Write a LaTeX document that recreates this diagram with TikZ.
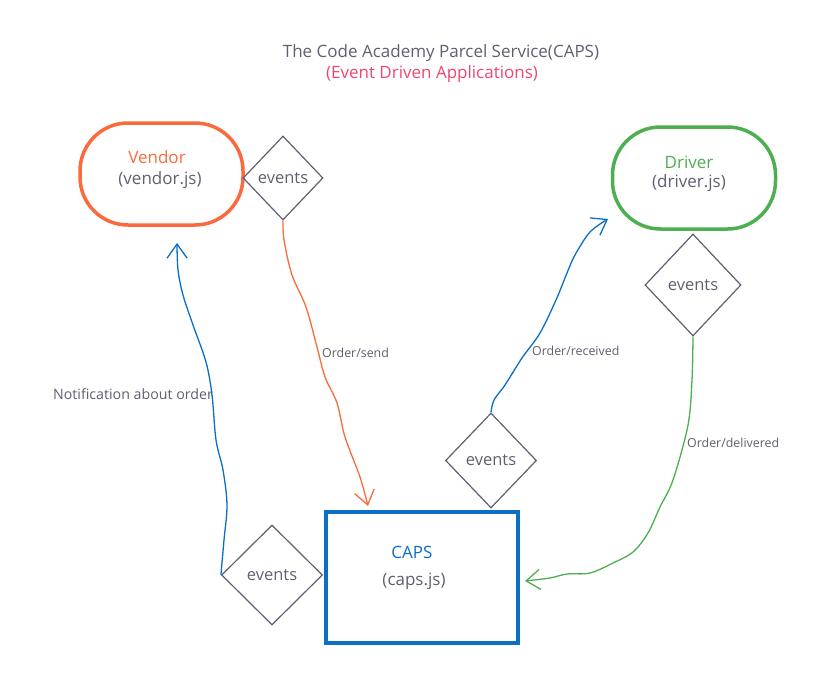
\documentclass[tikz,border=0pt]{standalone}
\usepackage{fontspec}
\setmainfont{Open Sans}
\usetikzlibrary{shapes.geometric,arrows.meta}
\definecolor{cgray}{HTML}{5E6072}
\definecolor{corange}{HTML}{FA6A3C}
\definecolor{cgreen}{HTML}{4CAF50}
\definecolor{cblue}{HTML}{0B6FC6}
\definecolor{cpink}{HTML}{EF4670}
\tikzset{
  stadium/.style={draw, rectangle, rounded corners=48pt, line width=3.5pt, minimum width=163pt, minimum height=102pt, inner sep=0pt},
  evd/.style={draw=cgray, diamond, line width=1.2pt, inner sep=0pt, text=cgray, font=\fontsize{16.5}{18}\selectfont},
  lbl/.style={text=cgray, font=\fontsize{12.4}{14}\selectfont, inner sep=0pt},
  conn/.style={line width=1.3pt, -{Straight Barb[length=14pt,width=20pt,line width=1.3pt]}},
  big/.style={font=\fontsize{17}{19}\selectfont, inner sep=0pt},
}
\begin{document}
\begin{tikzpicture}[x=1pt,y=-1pt]
\useasboundingbox (0,0) rectangle (828,688);
% title
\node[big, text=cgray] (title) at (441,53) {The Code Academy Parcel Service(CAPS)};
\node[big, text=cpink] (subtitle) at (432,74) {(Event Driven Applications)};
% main nodes
\node[stadium, draw=corange] (vendor) at (161.5,174) {};
\node[big, text=corange] (vendort) at (157,157) {Vendor};
\node[big, text=cgray] (vendorjs) at (160,180) {(vendor.js)};
\node[stadium, draw=cgreen] (driver) at (694,178) {};
\node[big, text=cgreen] (drivert) at (689,162) {Driver};
\node[big, text=cgray] (driverjs) at (689,183) {(driver.js)};
\node[draw=cblue, line width=3.5pt, minimum width=192pt, minimum height=131pt, inner sep=0pt] (caps) at (422,577.5) {};
\node[big, text=cblue] (capst) at (412,552) {CAPS};
\node[big, text=cgray] (capsjs) at (414,581) {(caps.js)};
% diamonds
\node[evd, minimum width=80pt, minimum height=84pt] (d1) at (283,178) {events};
\node[evd, minimum width=96pt, minimum height=102pt] (d2) at (693,285) {events};
\node[evd, minimum width=91pt, minimum height=95pt] (d3) at (491,460.5) {events};
\node[evd, minimum width=101pt, minimum height=100pt] (d4) at (272,575) {events};
% free ends
\coordinate (e1) at (368,506);
\coordinate (e2) at (177,243);
\coordinate (e3) at (608,219);
\coordinate (e4) at (525,581);
% connectors
\draw[conn, corange] plot[smooth, tension=0.55] coordinates {(d1.south) (284,240) (292,275) (306,307) (317,347) (325,377) (337,403) (345,437) (360,477) (e1)};
\draw[conn, cblue] plot[smooth, tension=0.55] coordinates {(d4.west) (224,540) (227,505) (223,470) (216,440) (212,395) (206,362) (193,325) (183,295) (178,270) (e2)};
\draw[conn, cblue] plot[smooth, tension=0.55] coordinates {(d3.north) (494,400) (505,385) (522,358) (540,333) (556,300) (567,273) (575,255) (590,232) (e3)};
\draw[conn, cgreen] plot[smooth, tension=0.55] coordinates {(d2.south) (692,380) (688,425) (673,480) (660,507) (648,533) (633,552) (613,563) (590,573) (567,574) (550,578) (e4)};
% labels
\node[lbl, anchor=west] (l1) at (322,353) {Order/send};
\node[lbl, anchor=west] (l2) at (532,351) {Order/received};
\node[lbl, anchor=west] (l3) at (687,443) {Order/delivered};
\node[text=cgray, font=\fontsize{14.2}{16}\selectfont, inner sep=0pt] (l4) at (133,394) {Notification about order};
\end{tikzpicture}
\end{document}
